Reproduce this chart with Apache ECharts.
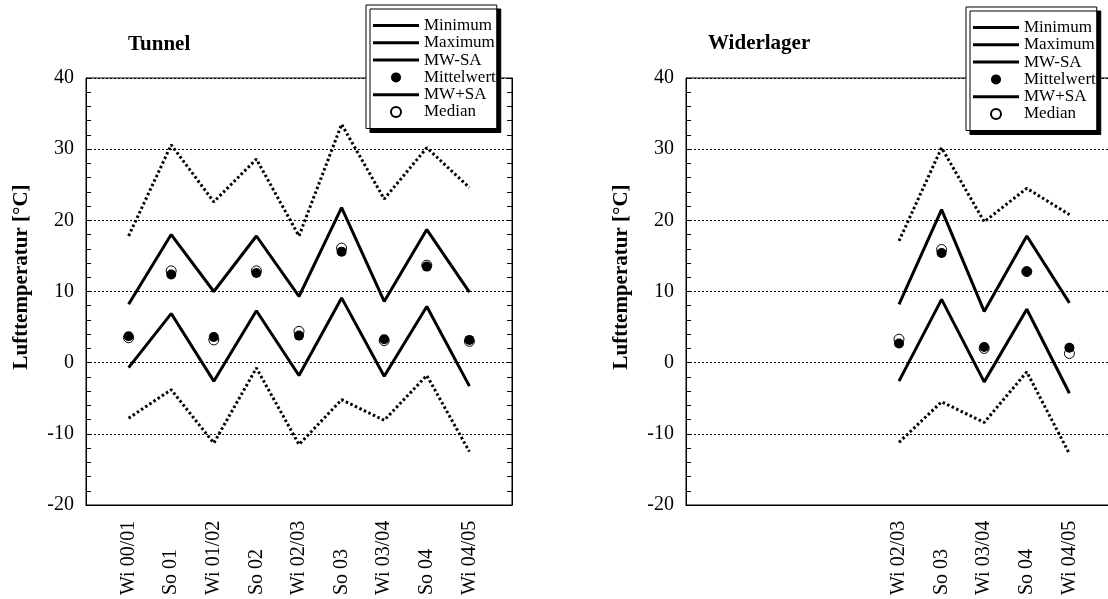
<!DOCTYPE html>
<html>
<head>
<meta charset="utf-8">
<script src="https://cdn.jsdelivr.net/npm/echarts@6/dist/echarts.min.js"></script>
<style>html,body{margin:0;padding:0;background:#fff;}#c{width:1108px;height:599px;}</style>
</head>
<body>
<div id="c"></div>
<script>
// Categories (seasons)
var categories = ['Wi 00/01','So 01','Wi 01/02','So 02','Wi 02/03','So 03','Wi 03/04','So 04','Wi 04/05'];
var categoriesW = ['Wi 02/03','So 03','Wi 03/04','So 04','Wi 04/05'];
var yTicks = [-20, -10, 0, 10, 20, 30, 40];

// Tunnel
var minT      = [-7.8, -3.8, -11.3, -0.75, -11.5, -5.2, -8.1, -1.8, -12.5];
var maxT      = [17.8, 30.6, 22.6, 28.6, 17.8, 33.5, 23.0, 30.2, 24.6];
var mwMinusSaT= [-0.7, 6.9, -2.6, 7.3, -1.8, 9.1, -1.9, 7.9, -3.3];
var meanT     = [3.7, 12.4, 3.6, 12.6, 3.8, 15.6, 3.3, 13.5, 3.2];
var mwPlusSaT = [8.2, 18.0, 10.0, 17.8, 9.3, 21.8, 8.6, 18.7, 9.9];
var medianT   = [3.5, 12.9, 3.2, 12.9, 4.4, 16.1, 3.1, 13.7, 3.0];

// Widerlager
var minW      = [-11.2, -5.5, -8.4, -1.3, -12.8];
var maxW      = [17.1, 30.2, 19.8, 24.5, 20.8];
var mwMinusSaW= [-2.6, 8.9, -2.7, 7.5, -4.3];
var meanW     = [2.7, 15.4, 2.2, 12.8, 2.1];
var mwPlusSaW = [8.2, 21.5, 7.2, 17.8, 8.4];
var medianW   = [3.3, 15.9, 2.0, 12.8, 1.3];

var seriesNames = ['Minimum','Maximum','MW-SA','Mittelwert','MW+SA','Median'];
var lineNames = ['Minimum','Maximum','MW-SA','MW+SA'];

// axis slots: one empty slot at each end
var axisCats = [''].concat(categories).concat(['']);
function padT(arr){ return [null].concat(arr).concat([null]); }
function padW(arr){
  var out = axisCats.map(function(){ return null; });
  categoriesW.forEach(function(c, i){ out[axisCats.indexOf(c)] = arr[i]; });
  return out;
}
var axisCatsW = axisCats.map(function(c){ return categoriesW.indexOf(c) >= 0 ? c : ''; });

var FONT = 'Liberation Serif, Times New Roman, serif';

function xAxisDef(gi, data){
  return {
    type:'category', gridIndex: gi, data: data, boundaryGap:false,
    axisLine:{show:true, onZero:false, lineStyle:{color:'#000', width:1}},
    axisTick:{show:false},
    splitLine:{show:false},
    axisLabel:{interval:0, rotate:90, align:'left', verticalAlign:'middle', margin:90,
      fontSize:20, fontFamily:FONT, color:'#000'}
  };
}
function yAxisDef(gi, pos, visible){
  var left = pos === 'left';
  return {
    type:'value', gridIndex: gi, position: pos, show: visible,
    min: yTicks[0], max: yTicks[yTicks.length-1], interval: 10,
    axisLine:{show:true, lineStyle:{color:'#000', width:1}},
    axisTick:{show:true, inside:true, length:5, lineStyle:{color:'#000'}},
    minorTick:{show:true, splitNumber:5, length:5, lineStyle:{color:'#000'}},
    splitLine:{show:left, lineStyle:{color:'#000', width:1, type:[2,2]}},
    axisLabel:{show:left, margin:12, fontSize:20, fontFamily:FONT, color:'#000'}
  };
}

function makeSeries(gi, pad, d){
  var lineBase = function(name, data, dotted){
    return {
      name:name, type:'line', xAxisIndex:gi, yAxisIndex:gi*2, data:pad(data),
      symbol:'none', connectNulls:false, z:2,
      lineStyle:{color:'#000', width:3, type: dotted ? [2.5,2.5] : 'solid', cap:'butt'},
      itemStyle:{color:'#000'}
    };
  };
  return [
    lineBase('Minimum', d[0], true),
    lineBase('Maximum', d[1], true),
    lineBase('MW-SA', d[2], false),
    {name:'Mittelwert', type:'scatter', xAxisIndex:gi, yAxisIndex:gi*2, data:pad(d[3]),
      symbol:'circle', symbolSize:10, z:4, itemStyle:{color:'#000', opacity:1}},
    lineBase('MW+SA', d[4], false),
    {name:'Median', type:'scatter', xAxisIndex:gi, yAxisIndex:gi*2, data:pad(d[5]),
      symbol:'circle', symbolSize:10, z:3, itemStyle:{color:'#fff', borderColor:'#000', borderWidth:1, opacity:1}}
  ];
}

function legendDef(left, top){
  return {
    left:left, top:top, orient:'vertical',
    data: seriesNames.map(function(n){
      return lineNames.indexOf(n) >= 0 ? {name:n, icon:'path://M0,0H46V3H0Z'} : {name:n};
    }),
    itemWidth:46, itemHeight:10, itemGap:0.3,
    padding:[12, 1, 8, 7],
    backgroundColor:'#fff', borderColor:'#000', borderWidth:1,
    shadowColor:'#000', shadowBlur:0, shadowOffsetX:4, shadowOffsetY:4,
    textStyle:{fontSize:17, lineHeight:16, fontFamily:FONT, color:'#000'},
    selectedMode:false
  };
}

var chart = echarts.init(document.getElementById('c'), null, {renderer:'canvas'});
chart.setOption({
  animation:false,
  backgroundColor:'#fff',
  title:[
    {text:'Tunnel', left:128, top:34, padding:0, textStyle:{fontSize:21, fontWeight:'bold', fontFamily:FONT, color:'#000'}},
    {text:'Widerlager', left:708, top:33, padding:0, textStyle:{fontSize:21, fontWeight:'bold', fontFamily:FONT, color:'#000'}}
  ],
  grid:[
    {left:86, width:426, top:78, bottom:94, outerBoundsMode:'none', containLabel:false, show:true, borderColor:'#000', borderWidth:1, backgroundColor:'transparent'},
    {left:686, width:426, top:78, bottom:94, outerBoundsMode:'none', containLabel:false, show:true, borderColor:'#000', borderWidth:1, backgroundColor:'transparent'}
  ],
  xAxis:[ xAxisDef(0, axisCats), xAxisDef(1, axisCatsW) ],
  yAxis:[ yAxisDef(0,'left',true), yAxisDef(0,'right',true), yAxisDef(1,'left',true), yAxisDef(1,'right',false) ],
  legend:[ legendDef(366, 5), legendDef(966, 7) ],
  graphic:[
    {type:'text', x:22, y:277, rotation:Math.PI/2, style:{text:'Lufttemperatur [°C]', font:'bold 21px ' + FONT, fill:'#000', align:'center', verticalAlign:'middle'}},
    {type:'text', x:622, y:277, rotation:Math.PI/2, style:{text:'Lufttemperatur [°C]', font:'bold 21px ' + FONT, fill:'#000', align:'center', verticalAlign:'middle'}}
  ],
  series: makeSeries(0, padT, [minT, maxT, mwMinusSaT, meanT, mwPlusSaT, medianT])
    .concat(makeSeries(1, padW, [minW, maxW, mwMinusSaW, meanW, mwPlusSaW, medianW]))
});
</script>
</body>
</html>
